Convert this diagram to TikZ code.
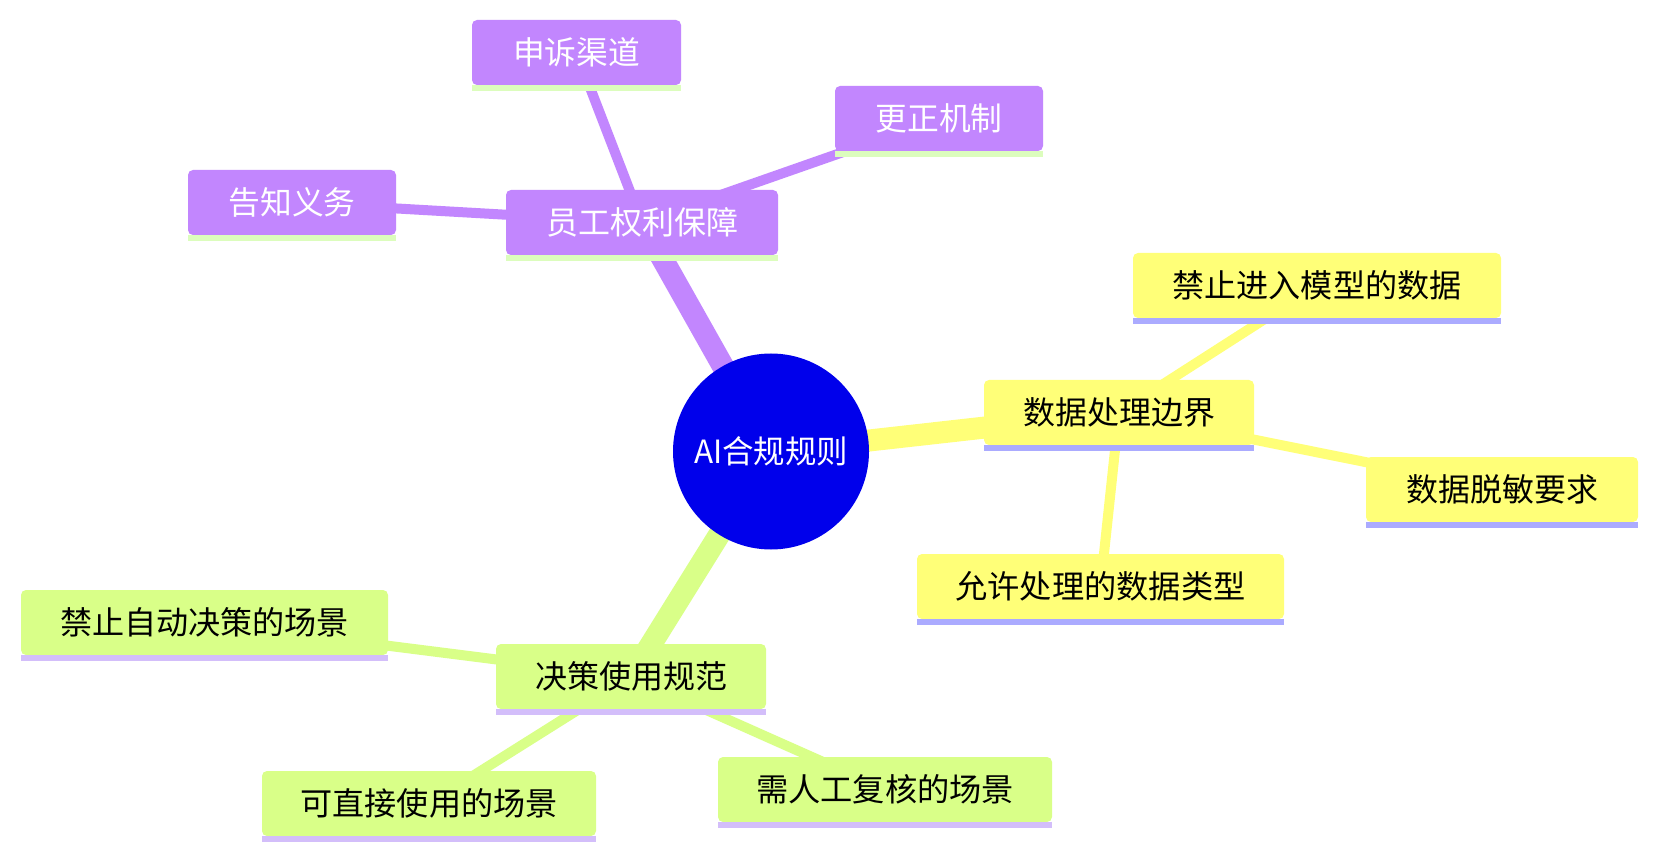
\documentclass[tikz,border=0pt]{standalone}
\usepackage{fontspec}
\newfontfamily\cjk{Noto Sans CJK SC}
\usetikzlibrary{backgrounds}
\definecolor{purp}{HTML}{C286FE}
\definecolor{purpul}{HTML}{DCFDBD}
\definecolor{yel}{HTML}{FFFF78}
\definecolor{yelul}{HTML}{ABABFF}
\definecolor{grn}{HTML}{D9FF88}
\definecolor{grnul}{HTML}{D3BEFA}
\definecolor{rootblue}{HTML}{0000EB}
\newcommand{\fitw}[2]{\resizebox{#1}{\height}{#2}}
\begin{document}
\begin{tikzpicture}[x=1pt,y=-1pt,
  mbox/.style={rounded corners=5pt, inner sep=0pt, minimum height=65pt,
    font=\cjk\fontsize{32}{32}\selectfont},
  pbox/.style={mbox, fill=purp, text=white},
  ybox/.style={mbox, fill=yel, text=black},
  gbox/.style={mbox, fill=grn, text=black},
  rootnode/.style={circle, fill=rootblue, text=white, inner sep=0pt,
    minimum size=196pt, font=\cjk\fontsize{32}{32}\selectfont},
  rootedge/.style={line width=22pt},
  subedge/.style={line width=10pt}]
\useasboundingbox (0,0) rectangle (1657,858);

% root
\node[rootnode] (root) at (771,451.5) {\fitw{154pt}{AI合规规则}};

% purple branch
\node[pbox, minimum width=272pt] (yg) at (642,222.5) {\fitw{192pt}{员工权利保障}};
\node[pbox, minimum width=209pt] (ss) at (576.5,52.5) {\fitw{127pt}{申诉渠道}};
\node[pbox, minimum width=208pt] (gz) at (939,118.5) {\fitw{127pt}{更正机制}};
\node[pbox, minimum width=208pt] (gzh) at (292,202.5) {\fitw{127pt}{告知义务}};

% yellow branch
\node[ybox, minimum width=270pt] (sj) at (1119,412.5) {\fitw{192pt}{数据处理边界}};
\node[ybox, minimum width=368pt] (jz) at (1317,285.5) {\fitw{289pt}{禁止进入模型的数据}};
\node[ybox, minimum width=272pt] (tm) at (1502,489.5) {\fitw{192pt}{数据脱敏要求}};
\node[ybox, minimum width=367pt] (yx) at (1100.5,586.5) {\fitw{290pt}{允许处理的数据类型}};

% green branch
\node[gbox, minimum width=270pt] (jc) at (631,676.5) {\fitw{192pt}{决策使用规范}};
\node[gbox, minimum width=367pt] (zd) at (204.5,622.5) {\fitw{289pt}{禁止自动决策的场景}};
\node[gbox, minimum width=334pt] (kz) at (429,803.5) {\fitw{257pt}{可直接使用的场景}};
\node[gbox, minimum width=334pt] (rg) at (885,789.5) {\fitw{258pt}{需人工复核的场景}};

% underlines
\foreach \n in {yg,ss,gz,gzh}
  \fill[purpul] (\n.south west) rectangle ([yshift=-5.5pt]\n.south east);
\foreach \n in {sj,jz,tm,yx}
  \fill[yelul] (\n.south west) rectangle ([yshift=-5.5pt]\n.south east);
\foreach \n in {jc,zd,kz,rg}
  \fill[grnul] (\n.south west) rectangle ([yshift=-5.5pt]\n.south east);

% connectors
\begin{scope}[on background layer]
  \fill[white] (0,0) rectangle (1657,858);
  \draw[rootedge, purp] (root.center) -- (yg.center);
  \draw[rootedge, yel] (root.center) -- (sj.center);
  \draw[rootedge, grn] (root.center) -- (jc.center);
  \draw[subedge, purp] (yg.center) -- (ss.center);
  \draw[subedge, purp] (yg.center) -- (gz.center);
  \draw[subedge, purp] (yg.center) -- (gzh.center);
  \draw[subedge, yel] (sj.center) -- (jz.center);
  \draw[subedge, yel] (sj.center) -- (tm.center);
  \draw[subedge, yel] (sj.center) -- (yx.center);
  \draw[subedge, grn] (jc.center) -- (zd.center);
  \draw[subedge, grn] (jc.center) -- (kz.center);
  \draw[subedge, grn] (jc.center) -- (rg.center);
\end{scope}
\end{tikzpicture}
\end{document}
